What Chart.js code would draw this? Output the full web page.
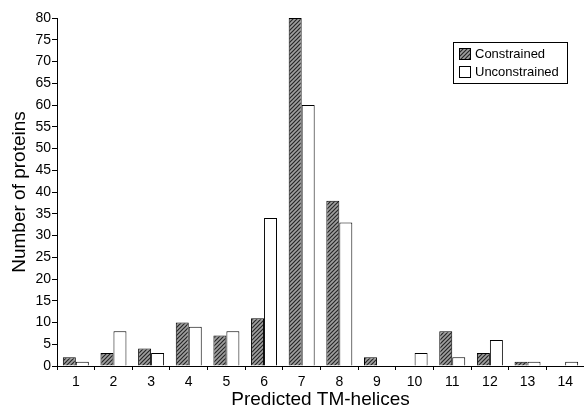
<!DOCTYPE html>
<html>
<head>
<meta charset="utf-8">
<script src="https://cdn.jsdelivr.net/npm/chart.js@4.4.1/dist/chart.umd.min.js"></script>
<style>
  html, body { margin: 0; padding: 0; background: #fff; }
</style>
</head>
<body>
<canvas id="tmChart" width="584" height="409"></canvas>
<script>
const helixCounts = ["1", "2", "3", "4", "5", "6", "7", "8", "9", "10", "11", "12", "13", "14"];
const constrained = [2, 3, 4, 10, 7, 11, 80, 38, 2, 0, 8, 3, 1, 0];
const unconstrained = [1, 8, 3, 9, 8, 34, 60, 33, 0, 3, 2, 6, 1, 1];

const FONT = '"Liberation Sans", Arial, sans-serif';

// dark diagonal hatch like the scanned figure
function makeHatch() {
  const c = document.createElement("canvas");
  c.width = 4;
  c.height = 4;
  const g = c.getContext("2d");
  g.fillStyle = "#a0a0a0";
  g.fillRect(0, 0, 4, 4);
  g.strokeStyle = "#262626";
  g.lineWidth = 1.2;
  g.beginPath();
  g.moveTo(0, 4); g.lineTo(4, 0);
  g.moveTo(-1, 1); g.lineTo(1, -1);
  g.moveTo(3, 5); g.lineTo(5, 3);
  g.stroke();
  return g.createPattern(c, "repeat");
}

const legendBox = {
  id: "legendBox",
  afterDraw(chart) {
    const ctx = chart.ctx;
    ctx.save();
    ctx.strokeStyle = "#000";
    ctx.lineWidth = 1;
    ctx.strokeRect(453.5, 42.5, 114, 41);
    ctx.font = "13px " + FONT;
    ctx.textBaseline = "middle";
    chart.data.datasets.forEach((ds, i) => {
      const y = 48 + i * 18;
      ctx.fillStyle = ds.backgroundColor;
      ctx.fillRect(459, y, 11, 11);
      ctx.strokeRect(459.5, y + 0.5, 11, 11);
      ctx.fillStyle = "#000";
      ctx.fillText(ds.label, 475, y + 6);
    });
    ctx.restore();
  },
};

const ctx = document.getElementById("tmChart");
new Chart(ctx, {
  type: "bar",
  data: {
    labels: helixCounts,
    datasets: [
      {
        label: "Constrained",
        data: constrained,
        backgroundColor: makeHatch(),
        borderColor: "#000",
        borderWidth: 1,
        categoryPercentage: 0.69,
        barPercentage: 1,
      },
      {
        label: "Unconstrained",
        data: unconstrained,
        backgroundColor: "#fff",
        borderColor: "#000",
        borderWidth: 1,
        categoryPercentage: 0.69,
        barPercentage: 1,
      },
    ],
  },
  options: {
    responsive: false,
    animation: false,
    layout: { padding: { top: 18, right: 0, bottom: 0, left: 0 } },
    plugins: {
      legend: { display: false },
      tooltip: { enabled: false },
    },
    scales: {
      x: {
        afterFit: (scale) => { scale.height = 43; },
        border: { color: "#000", width: 1 },
        grid: { drawOnChartArea: false, drawTicks: true, tickLength: 4, color: "#000" },
        ticks: { color: "#000", padding: 4, font: { family: FONT, size: 14 } },
        title: {
          display: true,
          text: "Predicted TM-helices",
          color: "#000",
          padding: { top: 0, bottom: 0 },
          font: { family: FONT, size: 19, lineHeight: 1 },
        },
      },
      y: {
        min: 0,
        max: 80,
        afterFit: (scale) => { scale.width = 57; },
        border: { color: "#000", width: 1 },
        grid: { drawOnChartArea: false, drawTicks: true, tickLength: 5, color: "#000" },
        ticks: { stepSize: 5, color: "#000", padding: 1, font: { family: FONT, size: 14 } },
        title: {
          display: true,
          text: "Number of proteins",
          color: "#000",
          padding: { top: 8, bottom: 0 },
          font: { family: FONT, size: 19, lineHeight: 1.2 },
        },
      },
    },
  },
  plugins: [legendBox],
});
</script>
</body>
</html>
